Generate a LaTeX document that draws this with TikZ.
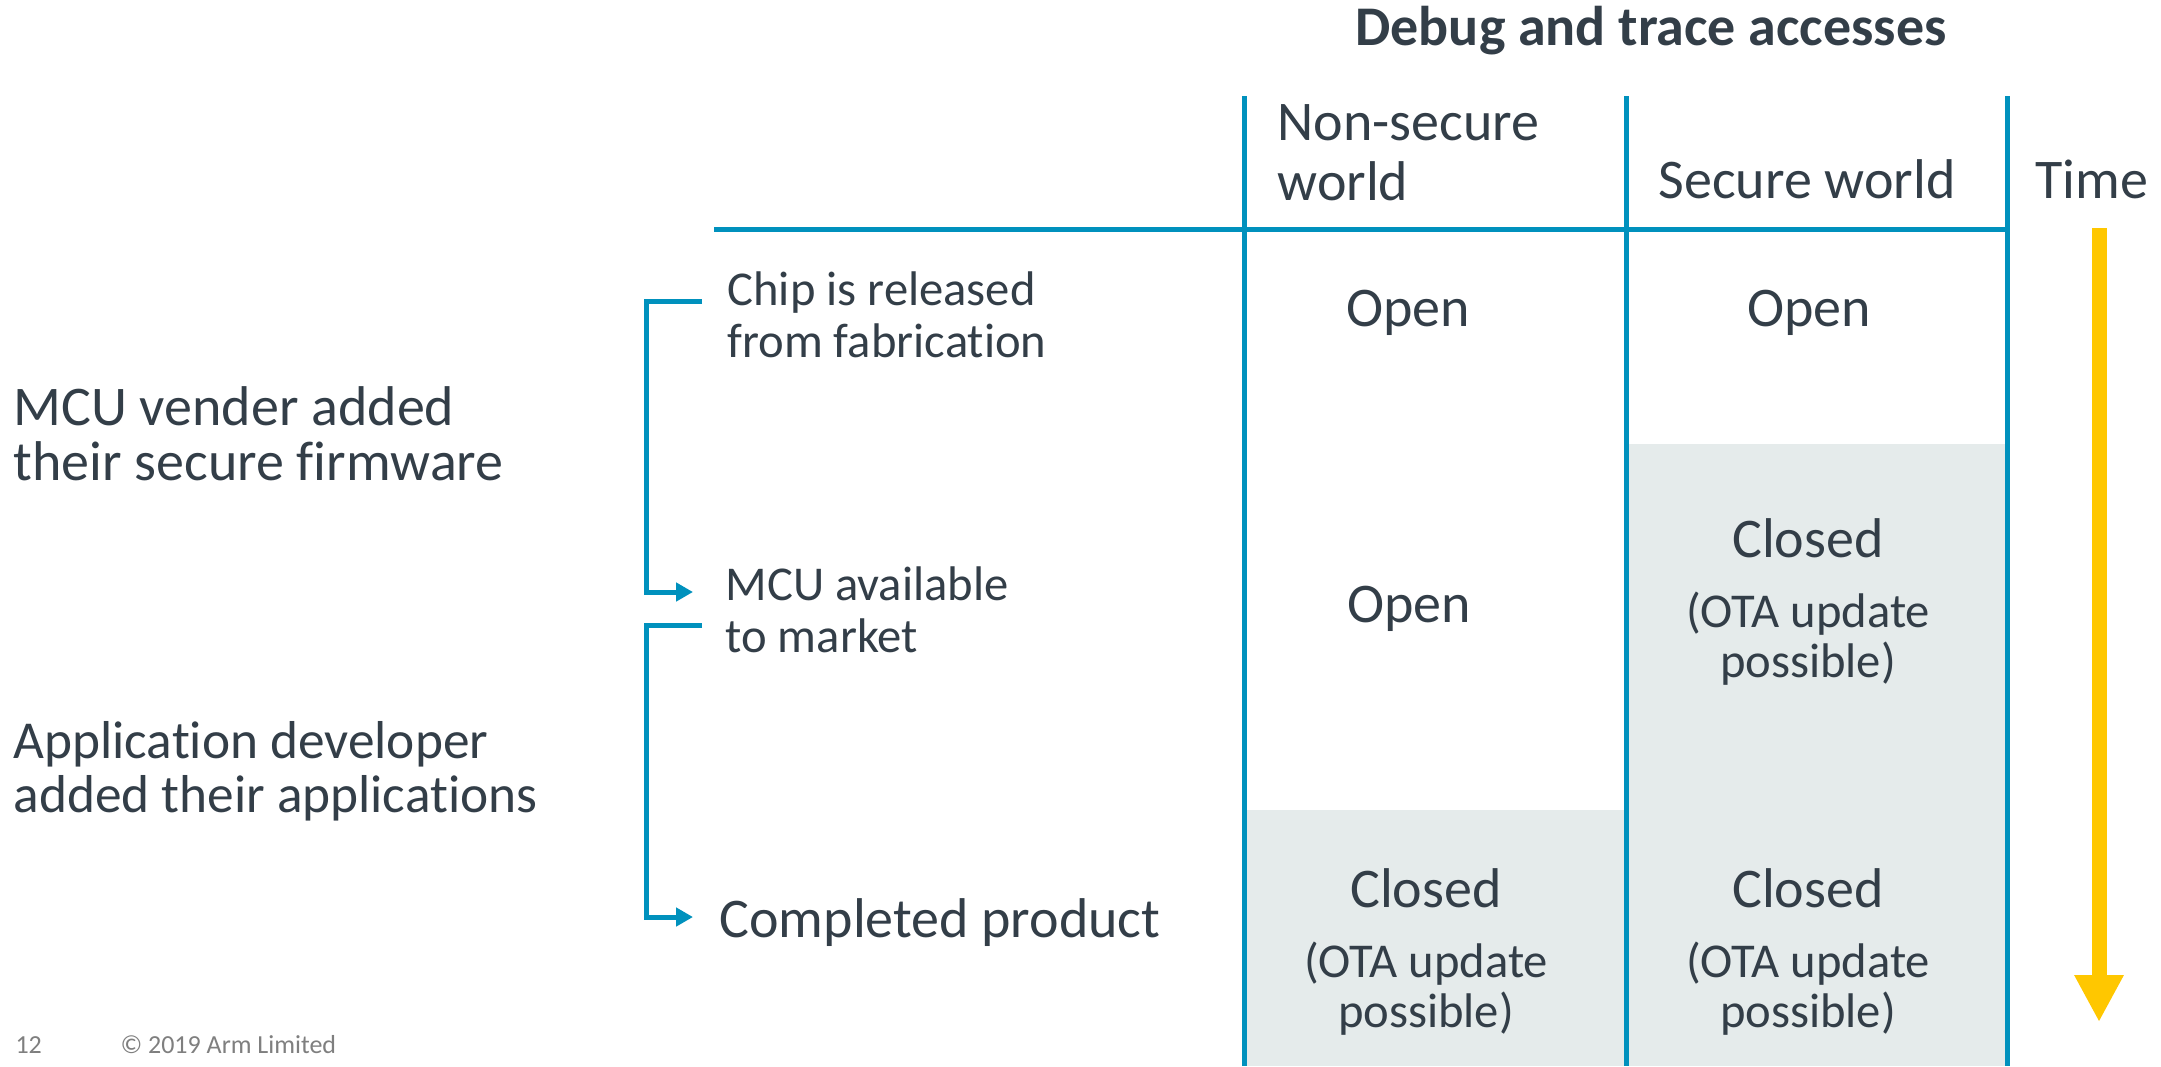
\documentclass[tikz,border=0pt]{standalone}
\usepackage{fontspec}
\setmainfont{Carlito}[Ligatures=NoCommon]
\usetikzlibrary{arrows.meta}
\definecolor{armblue}{HTML}{0091BD}
\definecolor{armtext}{HTML}{333E48}
\definecolor{armgrey}{HTML}{E5EBEB}
\definecolor{armyellow}{HTML}{FFC700}
\definecolor{footgrey}{HTML}{7F7F7F}
% two stacked lines; the box baseline is that of the first line
\newcommand\stackL[2]{\vtop{\hbox{#1}\hbox{#2}}}
\newcommand\stackC[2]{\vtop{\halign{\hfil##\hfil\cr#1\cr#2\cr}}}
\tikzset{
  txt/.style={inner sep=0pt, text=armtext},
  big/.style={font=\fontsize{20.16pt}{#1}\selectfont},
  big/.default=19.8pt,
  small/.style={font=\fontsize{17.5pt}{#1}\selectfont},
  small/.default=18.72pt,
  grid/.style={draw=armblue, line width=1.8pt},
  bracket/.style={draw=armblue, line width=1.8pt,
    -{Triangle[length=6.1pt, width=6.5pt]}},
  timearrow/.style={draw=armyellow, line width=5.4pt,
    -{Triangle[length=16.9pt, width=16.6pt]}},
  shade/.style={fill=armgrey, draw=none},
  foot/.style={inner sep=0pt, text=footgrey, font=\fontsize{9.36pt}{11pt}\selectfont}
}
\begin{document}
\begin{tikzpicture}[x=0.36pt, y=-0.36pt]
\fill[white] (0,0) rectangle (2161,1066);
\useasboundingbox (0,0) rectangle (2161,1066);

% shaded (closed) cells
\path[shade] (1626,444) rectangle (2007,1066);
\path[shade] (1244,810) rectangle (1626,1066);

% table rules
\draw[grid] (714,229) -- (2007,229);
\draw[grid] (1244,96) -- (1244,1066);
\draw[grid] (1626,96) -- (1626,1066);
\draw[grid] (2007,96) -- (2007,1066);

% title and column headings
\node[txt, anchor=base, font=\bfseries\fontsize{20.16pt}{24pt}\selectfont] (title) at (1651,45) {Debug and trace accesses};
\node[txt, big=21.6pt, anchor=base west] (hns) at (1277,140) {\stackL{Non-secure}{world}};
\node[txt, big, anchor=base west] (hs) at (1658,198) {Secure world};
\node[txt, big, anchor=base west] (htime) at (2035,198) {Time};

% cell states
\node[txt, big, anchor=base] (c11) at (1408,326) {Open};
\node[txt, big, anchor=base] (c12) at (1809,326) {Open};
\node[txt, big, anchor=base] (c21) at (1409,622) {Open};
\node[txt, big, anchor=base] (c22) at (1808,557) {Closed};
\node[txt, small=18pt, anchor=base] (c22n) at (1808,627) {\stackC{(OTA update}{possible)}};
\node[txt, big, anchor=base] (c31) at (1426,907) {Closed};
\node[txt, small=18pt, anchor=base] (c31n) at (1426,977) {\stackC{(OTA update}{possible)}};
\node[txt, big, anchor=base] (c32) at (1808,907) {Closed};
\node[txt, small=18pt, anchor=base] (c32n) at (1808,977) {\stackC{(OTA update}{possible)}};

% milestones
\node[txt, small, anchor=base west] (chip) at (727,305) {\stackL{Chip is released}{from fabrication}};
\node[txt, small, anchor=base west] (mcu) at (725,600) {\stackL{MCU available}{to market}};
\node[txt, big, anchor=base west] (prod) at (719,937) {Completed product};

% steps between milestones
\node[txt, big=19.8pt, anchor=base west] (vendor) at (13,425) {\stackL{MCU vender added}{their secure firmware}};
\node[txt, anchor=base west, font=\fontsize{19.2pt}{19.44pt}\selectfont] (appdev) at (13,758) {\stackL{Application developer}{added their applications}};

% brackets linking the milestones
\coordinate (b1s) at (702,301);
\coordinate (b1e) at (693,592);
\coordinate (b2s) at (702,625);
\coordinate (b2e) at (693,917);
\draw[bracket] (b1s) -- ++(-56,0) |- (b1e);
\draw[bracket] (b2s) -- ++(-56,0) |- (b2e);

% time axis
\coordinate (t0) at (2099,228);
\coordinate (t1) at (2099,1022);
\draw[timearrow] (t0) -- (t1);

% footer
\node[foot, anchor=base west] (pg) at (15,1053) {12};
\node[foot, anchor=base west] (copy) at (120,1053) {© 2019 Arm Limited};
\end{tikzpicture}
\end{document}
